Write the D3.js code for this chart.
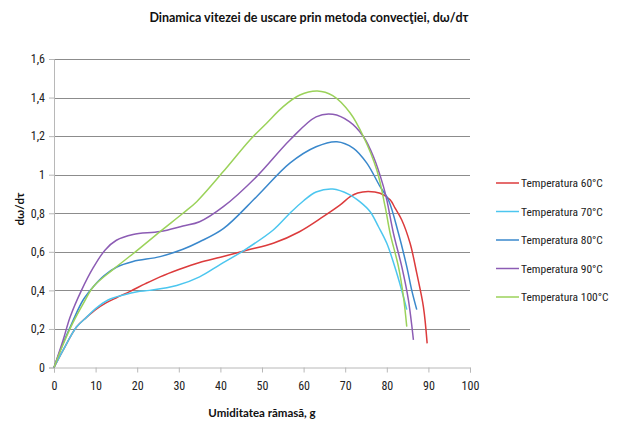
<!DOCTYPE html>
<html><head><meta charset="utf-8">
<script src="https://cdn.jsdelivr.net/npm/d3@7"></script>
<style>
body{margin:0;background:#fff;}
svg{display:block;}
</style></head>
<body>
<svg id="chart" width="623" height="423"></svg>
<script>
const title = "Dinamica vitezei de uscare prin metoda convecţiei, dω/dτ";
const xTitle = "Umiditatea rămasă, g";
const yTitle = "dω/dτ";
const xTicks = [0,10,20,30,40,50,60,70,80,90,100];
const yTicks = [0,0.2,0.4,0.6,0.8,1,1.2,1.4,1.6];

const seriesNames = ["Temperatura 60°C","Temperatura 70°C","Temperatura 80°C","Temperatura 90°C","Temperatura 100°C"];
const seriesColors = ["#dc3b3c","#4cc6ef","#3a88cc","#8c5cb4","#9bd25a"];

const x60 = [0,2.2,5.4,7.8,10,12.5,15,18.3,22,25.5,30,35,40,46.3,52.7,59,64.7,68.8,71.2,73,75.5,78.4,80.8,82,83.6,85.6,87.2,88.8,89.7];
const y60 = [0,0.09,0.21,0.26,0.30,0.335,0.362,0.395,0.435,0.47,0.508,0.545,0.572,0.608,0.644,0.704,0.782,0.843,0.886,0.905,0.913,0.904,0.87,0.826,0.765,0.644,0.489,0.315,0.125];

const x70 = [0,2.2,5.4,7.8,10,13,16.7,20,23,29.5,35,40,45.5,52.7,56.7,60,63,67,71,73.5,76,78,80,82.4,84,84.8];
const y70 = [0,0.09,0.21,0.26,0.305,0.35,0.376,0.393,0.40,0.425,0.47,0.535,0.605,0.713,0.80,0.865,0.91,0.926,0.897,0.86,0.808,0.73,0.644,0.489,0.367,0.30];

const x80 = [0,2,4.5,7,9.5,12,15,19,25.5,31,35,40.7,48.7,56.7,63,68,72,75.2,78.4,80.4,82.8,84.8,86,87.2];
const y80 = [0,0.115,0.24,0.35,0.42,0.475,0.52,0.55,0.575,0.613,0.652,0.72,0.886,1.06,1.145,1.171,1.137,1.06,0.938,0.869,0.696,0.523,0.40,0.30];

const x90 = [0,2.2,3.9,6.6,9.5,12.3,15,19,25.5,31,35,40.7,48.7,56.7,63,67,71,74.4,76.8,79.2,80,81.6,83.6,85.2,86.4];
const y90 = [0,0.143,0.263,0.40,0.52,0.61,0.66,0.69,0.705,0.734,0.756,0.834,0.99,1.18,1.30,1.313,1.275,1.197,1.093,0.938,0.869,0.696,0.523,0.35,0.143];

const x100 = [0,2,4.5,7,9.5,14,19,25.5,31,34.3,40.7,47.1,51.1,55.1,59.1,63.3,67,71.2,74.4,77.6,79.6,80.8,82.8,84,84.8];
const y100 = [0,0.11,0.23,0.33,0.42,0.505,0.59,0.705,0.80,0.86,1.016,1.18,1.267,1.353,1.413,1.434,1.41,1.32,1.197,1.024,0.834,0.696,0.523,0.367,0.212];

const seriesX = [x60,x70,x80,x90,x100];
const seriesY = [y60,y70,y80,y90,y100];

const svg = d3.select("#chart");
const font = "'Liberation Sans Narrow', 'Roboto Condensed', Lato, sans-serif";
const boldFont = "Lato, 'Open Sans', sans-serif";

const x = d3.scaleLinear().domain([0,100]).range([54,470]);
const y = d3.scaleLinear().domain([0,1.6]).range([367.5,59]);

// gridlines
svg.append("g").selectAll("line").data(yTicks.filter(d=>d>0)).join("line")
  .attr("x1",x(0)).attr("x2",x(100))
  .attr("y1",d=>Math.round(y(d))+0.5).attr("y2",d=>Math.round(y(d))+0.5)
  .attr("stroke","#8c8c8c").attr("stroke-width",1);

const fmt = d => (d===0||d===1) ? String(d) : d3.format(".1f")(d).replace(".",",");

// y axis
const yAxis = svg.append("g").attr("transform",`translate(${x(0)},0)`)
  .call(d3.axisLeft(y).tickValues(yTicks).tickSize(5).tickPadding(4).tickFormat(fmt));
yAxis.select(".domain").attr("stroke","#b8b8b8");
yAxis.selectAll(".tick line").attr("stroke","#b8b8b8");
yAxis.selectAll("text").attr("font-family",font).attr("font-size",12).attr("fill","#222");

// x axis
const xAxis = svg.append("g").attr("transform",`translate(0,${y(0)})`)
  .call(d3.axisBottom(x).tickValues(xTicks).tickSize(5).tickPadding(9).tickFormat(d3.format("d")));
xAxis.select(".domain").attr("stroke","#b8b8b8");
xAxis.selectAll(".tick line").attr("stroke","#b8b8b8");
xAxis.selectAll("text").attr("font-family",font).attr("font-size",12).attr("fill","#222");

// series
const line = d3.line().x(d=>x(d[0])).y(d=>y(d[1])).curve(d3.curveCatmullRom.alpha(0.5));
seriesX.forEach((xs,i)=>{
  const pts = xs.map((v,j)=>[v,seriesY[i][j]]);
  svg.append("path").datum(pts).attr("d",line)
    .attr("fill","none").attr("stroke",seriesColors[i]).attr("stroke-width",1.5);
});

// titles
svg.append("text").attr("x",309).attr("y",22).attr("text-anchor","middle")
  .attr("font-family",boldFont).attr("font-weight","bold").attr("font-size",12.5).attr("fill","#111")
  .text(title);
svg.append("text").attr("x",262).attr("y",417).attr("text-anchor","middle")
  .attr("font-family",boldFont).attr("font-weight","bold").attr("font-size",11.5).attr("fill","#111")
  .text(xTitle);
svg.append("text").attr("transform","translate(24,209) rotate(-90)").attr("text-anchor","middle")
  .attr("font-family",boldFont).attr("font-weight","bold").attr("font-size",11.5).attr("fill","#111")
  .text(yTitle);

// legend
const lg = svg.append("g");
seriesNames.forEach((n,i)=>{
  const yy = 183 + i*28.5;
  lg.append("line").attr("x1",496).attr("x2",519).attr("y1",yy).attr("y2",yy)
    .attr("stroke",seriesColors[i]).attr("stroke-width",1.5);
  lg.append("text").attr("x",521).attr("y",yy+4).attr("font-family",font).attr("font-size",11.5)
    .attr("fill","#222").text(n);
});
</script>
</body></html>
